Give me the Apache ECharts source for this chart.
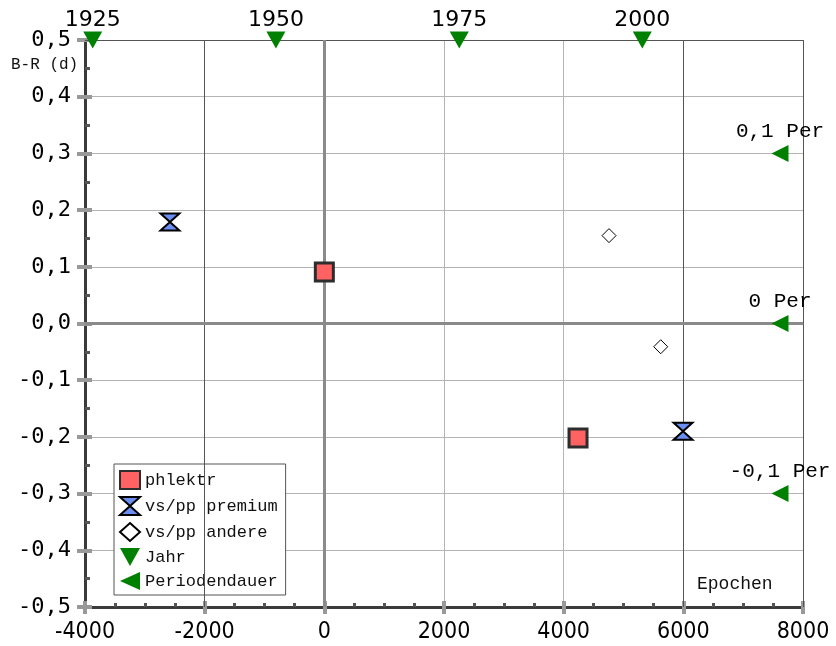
<!DOCTYPE html>
<html>
<head>
<meta charset="utf-8">
<script src="https://cdn.jsdelivr.net/npm/echarts@6/dist/echarts.min.js"></script>
<style>
  html, body { margin: 0; padding: 0; background: #fff; }
  #chart { width: 836px; height: 646px; }
</style>
</head>
<body>
<div id="chart"></div>
<script>
// O-C data: epoch number vs. B-R residual in days
const phlektr = [[0, 0.091], [4240, -0.202]];
const premium = [[-2580, 0.179], [5995, -0.190]];
const andere = [[4758, 0.155], [5622, -0.041]];

// Year markers along the top edge
const yearLabels = ['1925', '1950', '1975', '2000'];
const yearEpochs = [-3871, -809, 2255, 5314];
const yearLevel = 0.5;

// Period-change markers on the right side
const periodLabels = ['0,1 Per', '0 Per', '-0,1 Per'];
const periodValues = [0.3, 0.0, -0.3];
const periodEpoch = 7616;

// Axis ranges
const xMin = -4000, xMax = 8000, xStep = 2000;
const yMin = -0.5, yMax = 0.5, yStep = 0.1;

// Emphasised grid lines
const darkGridX = [-2000, 6000, 8000];
const darkGridY = [0.5];
const zeroX = 0, zeroY = 0;

const fmtY = v => {
  const s = v.toFixed(1).replace('.', ',');
  return s === '-0,0' ? '0,0' : s;
};
const fmtX = v => String(Math.round(v));

// symbol outlines
const triDown = 'path://M0,0L20,0L10,18Z';
const triLeft = 'path://M20,0L20,18L0,9Z';
const hourglass = 'path://M0,0L20,0L0,18L20,18Z';

const chart = echarts.init(document.getElementById('chart'), null, { renderer: 'canvas' });

const grid = { left: 85, right: 33, top: 40, bottom: 39, containLabel: false };

const xBase = {
  type: 'value', min: xMin, max: xMax, interval: xStep,
  position: 'bottom'
};
const yBase = {
  type: 'value', min: yMin, max: yMax, interval: yStep,
  position: 'left'
};

const option = {
  animation: false,
  backgroundColor: '#ffffff',
  grid: grid,
  xAxis: [
    Object.assign({}, xBase, {
      axisLine: { show: true, onZero: false, lineStyle: { color: '#3a3a3a', width: 3 } },
      axisTick: { show: true, inside: false, length: 7, lineStyle: { color: '#999', width: 4 } },
      axisLabel: {
        show: true, margin: 14, color: '#000',
        fontFamily: 'DejaVu Sans Condensed', fontSize: 23,
        formatter: fmtX
      },
      splitLine: { show: true, lineStyle: { color: '#b4b4b4', width: 1 } }
    }),
    Object.assign({}, xBase, {
      axisLine: { show: false, onZero: false },
      axisTick: { show: true, inside: true, length: 6, lineStyle: { color: '#999', width: 4 } },
      minorTick: { show: true, splitNumber: 4, length: 4, lineStyle: { color: '#555', width: 3 } },
      axisLabel: { show: false },
      splitLine: { show: false }
    })
  ],
  yAxis: [
    Object.assign({}, yBase, {
      axisLine: { show: true, onZero: false, lineStyle: { color: '#3a3a3a', width: 3 } },
      axisTick: { show: true, inside: false, length: 8, lineStyle: { color: '#999', width: 4 } },
      axisLabel: {
        show: true, margin: 14, color: '#000',
        fontFamily: 'DejaVu Sans Mono', fontSize: 22,
        formatter: fmtY
      },
      splitLine: { show: true, lineStyle: { color: '#b4b4b4', width: 1 } }
    }),
    Object.assign({}, yBase, {
      axisLine: { show: false, onZero: false },
      axisTick: { show: true, inside: true, length: 7, lineStyle: { color: '#999', width: 4 } },
      minorTick: { show: true, splitNumber: 2, length: 5, lineStyle: { color: '#555', width: 3 } },
      axisLabel: { show: false },
      splitLine: { show: false }
    })
  ],
  legend: {
    orient: 'vertical',
    left: 114, top: 464,
    padding: [6, 8, 5, 5],
    itemGap: 6,
    itemWidth: 20, itemHeight: 18,
    backgroundColor: '#ffffff',
    borderColor: '#555', borderWidth: 1, borderRadius: 0,
    textStyle: { fontFamily: 'Liberation Mono', fontSize: 17, color: '#111' },
    data: [
      { name: 'phlektr' },
      { name: 'vs/pp premium', icon: hourglass },
      { name: 'vs/pp andere' },
      { name: 'Jahr', icon: triDown },
      { name: 'Periodendauer', icon: triLeft }
    ]
  },
  graphic: [
    {
      type: 'text', left: 11, top: 57,
      style: { text: 'B-R (d)', font: '16px "Liberation Mono"', fill: '#111' }
    },
    {
      type: 'text', left: 697, top: 575,
      style: { text: 'Epochen', font: '18px "Liberation Mono"', fill: '#111' }
    }
  ],
  series: [
    {
      // reference lines: top border, dark verticals, zero axes
      name: 'grid', type: 'line', data: [], z: 1, silent: true,
      markLine: {
        silent: true, symbol: 'none', label: { show: false }, animation: false,
        data: [
          ...darkGridX.map(v => ({ xAxis: v, lineStyle: { color: '#555', width: 1, type: 'solid' } })),
          ...darkGridY.map(v => ({ yAxis: v, lineStyle: { color: '#555', width: 1, type: 'solid' } })),
          { xAxis: zeroX, lineStyle: { color: '#8a8a8a', width: 3, type: 'solid' } },
          { yAxis: zeroY, lineStyle: { color: '#8a8a8a', width: 3, type: 'solid' } }
        ]
      }
    },
    {
      name: 'phlektr', type: 'scatter', z: 5, clip: false,
      data: phlektr,
      symbol: 'rect', symbolSize: 18,
      itemStyle: { color: '#ff6262', borderColor: '#2d2d2d', borderWidth: 3, opacity: 1 }
    },
    {
      name: 'vs/pp premium', type: 'scatter', z: 5, clip: false,
      data: premium,
      symbol: hourglass, symbolSize: [19, 17],
      itemStyle: { color: '#6b8ef2', borderColor: '#000', borderWidth: 2, opacity: 1 }
    },
    {
      name: 'vs/pp andere', type: 'scatter', z: 5, clip: false,
      data: andere,
      symbol: 'diamond', symbolSize: 14,
      itemStyle: { color: '#ffffff', borderColor: '#000', borderWidth: 1, opacity: 1 }
    },
    {
      name: 'Jahr', type: 'scatter', z: 6, clip: false,
      data: yearEpochs.map((e, i) => ({ value: [e, yearLevel], name: yearLabels[i] })),
      symbol: 'triangle', symbolRotate: 180, symbolSize: [19, 17],
      itemStyle: { color: '#008000', opacity: 1 },
      label: {
        show: true, position: 'top', distance: 0,
        formatter: p => p.name,
        fontFamily: 'DejaVu Sans', fontSize: 22, color: '#000'
      }
    },
    {
      name: 'Periodendauer', type: 'scatter', z: 6, clip: false,
      data: periodValues.map((v, i) => ({ value: [periodEpoch, v], name: periodLabels[i] })),
      symbol: 'triangle', symbolRotate: 90, symbolSize: [17, 17],
      itemStyle: { color: '#008000', opacity: 1 },
      label: {
        show: true, position: 'top', distance: 3,
        formatter: p => p.name,
        fontFamily: 'Liberation Mono', fontSize: 21, color: '#000'
      }
    }
  ]
};

chart.setOption(option);
</script>
</body>
</html>
